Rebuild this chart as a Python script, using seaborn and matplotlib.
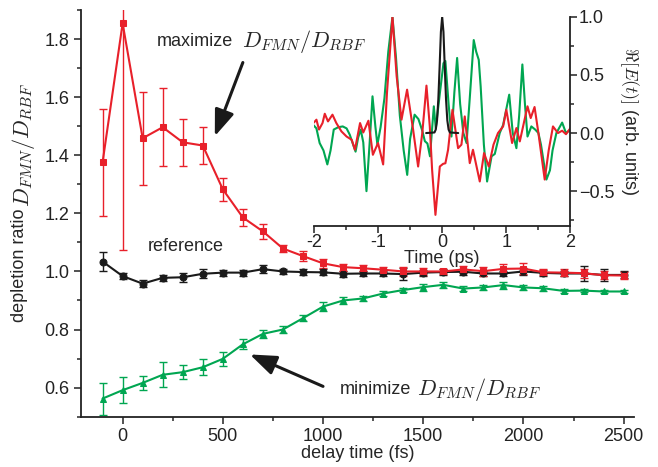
import matplotlib
matplotlib.use('Agg')
import matplotlib.pyplot as plt
import seaborn as sns
from matplotlib.ticker import MultipleLocator

# main panel: depletion ratio vs pump-probe delay
delay_fs = [-100, 0, 100, 200, 300, 400, 500, 600, 700, 800, 900, 1000, 1100, 1200,
            1300, 1400, 1500, 1600, 1700, 1800, 1900, 2000, 2100, 2200, 2300, 2400, 2500]

maximize_ratio = [1.376, 1.855, 1.459, 1.497, 1.445, 1.434, 1.283, 1.186, 1.138, 1.079,
                  1.053, 1.028, 1.015, 1.011, 1.006, 1.0, 1.0, 1.0, 1.007, 1.001,
                  1.009, 1.01, 0.997, 0.996, 0.994, 0.987, 0.986]
maximize_err = [0.185, 0.78, 0.16, 0.135, 0.08, 0.065, 0.04, 0.03, 0.025, 0.012,
                0.018, 0.015, 0.012, 0.01, 0.01, 0.015, 0.012, 0.01, 0.012, 0.015,
                0.015, 0.018, 0.01, 0.012, 0.015, 0.013, 0.012]

reference_ratio = [1.034, 0.984, 0.958, 0.978, 0.98, 0.992, 0.996, 0.996, 1.008, 1.0,
                   0.998, 0.997, 0.992, 0.993, 0.993, 0.991, 0.996, 0.998, 0.999, 0.993,
                   0.993, 1.0, 0.995, 0.993, 0.993, 0.988, 0.988]
reference_err = [0.033, 0.01, 0.012, 0.01, 0.015, 0.015, 0.01, 0.01, 0.015, 0.01,
                 0.01, 0.01, 0.01, 0.01, 0.01, 0.02, 0.01, 0.01, 0.01, 0.01,
                 0.01, 0.012, 0.01, 0.01, 0.025, 0.02, 0.012]

minimize_ratio = [0.562, 0.591, 0.616, 0.644, 0.653, 0.67, 0.699, 0.749, 0.785, 0.8,
                  0.839, 0.879, 0.9, 0.907, 0.924, 0.936, 0.946, 0.954, 0.941, 0.945,
                  0.953, 0.945, 0.942, 0.933, 0.934, 0.931, 0.931]
minimize_err = [0.055, 0.045, 0.025, 0.043, 0.025, 0.028, 0.024, 0.017, 0.014, 0.012,
                0.01, 0.015, 0.012, 0.008, 0.008, 0.008, 0.012, 0.01, 0.01, 0.01,
                0.012, 0.01, 0.008, 0.006, 0.006, 0.006, 0.005]

# inset: real part of the optimized fields
red_t = [-2.0, -1.96, -1.92, -1.865, -1.83, -1.78, -1.71, -1.65, -1.57, -1.49, -1.41, -1.36,
         -1.28, -1.23, -1.15, -1.08, -1.0, -0.92, -0.86, -0.775, -0.71, -0.634, -0.547,
         -0.453, -0.375, -0.31, -0.245, -0.193, -0.157, -0.105, -0.037, 0.014, 0.05, 0.092,
         0.16, 0.248, 0.3, 0.352, 0.43, 0.48, 0.586, 0.653, 0.726, 0.8, 0.87, 0.95, 1.0,
         1.09, 1.157, 1.21, 1.33, 1.38, 1.44, 1.5, 1.598, 1.66, 1.727, 1.805, 1.87, 1.93, 2.0]
red_v = [0.09, 0.115, 0.03, 0.086, 0.166, 0.1, 0.158, 0.086, 0.014, -0.03, -0.058, -0.144,
         0.086, 0.005, 0.106, -0.187, -0.086, -0.27, 0.35, 1.0, 0.49, 0.115, 0.373,
         0.029, -0.288, 0.0, 0.408, 0.057, -0.316, -0.704, -0.288, -0.265, -0.26, -0.144,
         0.2, -0.13, -0.1, 0.143, -0.259, -0.144, -0.417, -0.172, -0.288, -0.1, 0.0, 0.057, 0.2,
         -0.086, 0.043, -0.072, 0.23, 0.129, 0.224, 0.0, -0.4, -0.15, 0.057, 0.0, 0.02, -0.01, 0.043]

green_t = [-2.01, -1.96, -1.91, -1.85, -1.79, -1.74, -1.69, -1.62, -1.55, -1.49, -1.44, -1.4,
           -1.35, -1.31, -1.27, -1.23, -1.18, -1.13, -1.086, -1.04, -1.01, -0.96, -0.9, -0.84,
           -0.775, -0.72, -0.66, -0.6, -0.545, -0.5, -0.43, -0.37, -0.31, -0.27, -0.23, -0.19,
           -0.13, -0.1, -0.03, 0.02, 0.05, 0.1, 0.145, 0.19, 0.233, 0.28, 0.33, 0.38, 0.43,
           0.492, 0.53, 0.57, 0.6, 0.65, 0.7, 0.77, 0.82, 0.897, 0.95, 1.045, 1.1, 1.157,
           1.2, 1.25, 1.29, 1.33, 1.39, 1.45, 1.5, 1.54, 1.625, 1.68, 1.72, 1.78, 1.87, 1.93, 2.0]
green_v = [0.07, 0.04, -0.086, -0.15, -0.27, -0.15, 0.03, 0.05, 0.057, 0.04, -0.015, -0.08,
           -0.16, -0.04, 0.03, -0.08, -0.5, -0.08, 0.316, 0.05, -0.1, 0.05, 0.3, 0.7,
           1.0, 0.65, 0.15, -0.15, -0.36, -0.05, 0.158, 0.12, 0.02, -0.07, -0.09, -0.2,
           0.23, 0.04, 0.37, 0.6, 0.62, 0.25, -0.03, 0.35, 0.646, 0.25, 0.0, -0.086, 0.3,
           0.8, 0.7, 0.63, 0.4, -0.1, -0.417, -0.2, -0.18, 0.0, 0.07, 0.33, 0.0, -0.13,
           0.15, 0.59, 0.25, -0.03, 0.057, 0.03, 0.0, -0.1, -0.4, -0.32, -0.15, 0.0, 0.09, 0.0, 0.03]

ref_pulse_t = [-0.25, -0.12, -0.1, -0.08, -0.06, -0.04, -0.02, 0.0, 0.02, 0.04, 0.06, 0.08, 0.1, 0.12, 0.25]
ref_pulse_v = [0.0, 0.005, 0.03, 0.11, 0.29, 0.57, 0.87, 1.0, 0.87, 0.57, 0.29, 0.11, 0.03, 0.005, 0.0]

RED = '#e8202a'
GREEN = '#00a651'
BLACK = '#1a1a1a'

sns.set_style('ticks')
plt.rcParams['font.family'] = ['Liberation Sans', 'DejaVu Sans']
plt.rcParams['mathtext.fontset'] = 'cm'
plt.rcParams['xtick.direction'] = 'out'
plt.rcParams['ytick.direction'] = 'out'

fig = plt.figure(figsize=(6.58, 4.67), dpi=100)
ax = fig.add_axes([0.123, 0.108, 0.840, 0.870])

series = [
    (reference_ratio, reference_err, BLACK, 'o'),
    (minimize_ratio, minimize_err, GREEN, '^'),
    (maximize_ratio, maximize_err, RED, 's'),
]
for vals, err, col, mk in series:
    ax.errorbar(delay_fs, vals, yerr=err, fmt='none', ecolor=col, elinewidth=1.0,
                capsize=3, capthick=1.0, zorder=2)
    sns.lineplot(x=delay_fs, y=vals, ax=ax, color=col, marker=mk, markersize=5,
                 markeredgecolor=col, linewidth=1.5, errorbar=None, zorder=3)

ax.set_xlim(-208, 2550)
ax.set_ylim(0.5, 1.9)
ax.xaxis.set_major_locator(MultipleLocator(500))
ax.xaxis.set_minor_locator(MultipleLocator(250))
ax.yaxis.set_major_locator(MultipleLocator(0.2))
ax.yaxis.set_minor_locator(MultipleLocator(0.1))
ax.tick_params(which='major', length=5, width=1.1, labelsize=13, colors='#222222')
ax.tick_params(which='minor', length=3, width=1.1)
sns.despine(ax=ax)
for s in ['left', 'bottom']:
    ax.spines[s].set_linewidth(1.3)
    ax.spines[s].set_color('#222222')
ax.set_xlabel('delay time (fs)', fontsize=13, labelpad=0)
ax.set_ylabel('')

fig.text(0.030, 1 - 209 / 467, 'depletion ratio', rotation=90, ha='center', va='top', fontsize=13)
fig.text(0.036, 1 - 207 / 467, r'$D_{FMN}/D_{RBF}$', rotation=90, ha='center', va='bottom', fontsize=16)

# annotations
ax.text(171, 1.794, 'maximize', fontsize=13, va='center', ha='left')
ax.text(597, 1.794, r'$D_{FMN}/D_{RBF}$', fontsize=16, va='center', ha='left')
ax.text(126, 1.086, 'reference', fontsize=13, va='center', ha='left')
ax.text(1082, 0.593, 'minimize', fontsize=13, va='center', ha='left')
ax.text(1470, 0.593, r'$D_{FMN}/D_{RBF}$', fontsize=16, va='center', ha='left')

arrow = dict(arrowstyle='-|>,head_length=0.8,head_width=0.3', color=BLACK, lw=2.2,
             mutation_scale=20, shrinkA=0, shrinkB=0)
ax.annotate('', xy=(460, 1.466), xytext=(600, 1.72), arrowprops=arrow)
ax.annotate('', xy=(635, 0.714), xytext=(1000, 0.604), arrowprops=arrow)

# inset
axin = fig.add_axes([0.477, 0.516, 0.390, 0.448])
axin.patch.set_alpha(0)
line_kw = dict(linewidth=1.5, sort=False, estimator=None, solid_joinstyle='round')
sns.lineplot(x=green_t, y=green_v, ax=axin, color=GREEN, **line_kw)
sns.lineplot(x=red_t, y=red_v, ax=axin, color=RED, **line_kw)
sns.lineplot(x=ref_pulse_t, y=ref_pulse_v, ax=axin, color=BLACK, **line_kw)
axin.set_xlim(-2, 2)
axin.set_ylim(-0.8, 1.0)
axin.xaxis.set_major_locator(MultipleLocator(1))
axin.xaxis.set_minor_locator(MultipleLocator(0.5))
axin.yaxis.set_major_locator(MultipleLocator(0.5))
axin.yaxis.set_minor_locator(MultipleLocator(0.25))
axin.yaxis.tick_right()
axin.yaxis.set_label_position('right')
axin.spines['left'].set_visible(False)
axin.spines['top'].set_visible(False)
for s in ['right', 'bottom']:
    axin.spines[s].set_linewidth(1.3)
    axin.spines[s].set_color('#222222')
axin.tick_params(which='major', length=5, width=1.1, labelsize=13, colors='#222222', pad=1)
axin.tick_params(which='minor', length=3, width=1.1)
axin.set_xticks([-2, -1, 0, 1, 2])
axin.set_xticklabels(['-2', '-1', '0', '1', '2'])
axin.set_xlabel('Time (ps)', fontsize=13, labelpad=-1)
axin.set_ylabel(r'$\Re[E(t)]$ (arb. units)', fontsize=13, rotation=270, labelpad=19)

fig.savefig('out.png', dpi=100)
